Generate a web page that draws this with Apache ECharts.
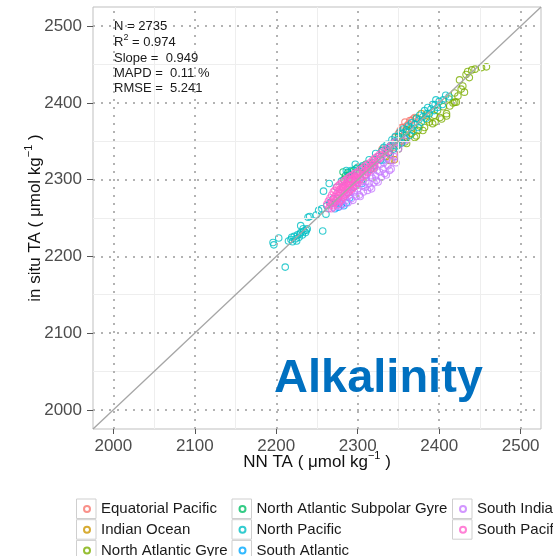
<!DOCTYPE html>
<html><head><meta charset="utf-8">
<script src="https://cdn.jsdelivr.net/npm/echarts@6/dist/echarts.min.js"></script>
<style>html,body{margin:0;padding:0;background:#fff}#c{width:553px;height:556px}</style>
</head><body><div id="c"></div>
<script>
const FONT = '"Liberation Sans", Arial, Helvetica, sans-serif';
const axisRange = [1975, 2525];
const tickValues = [2000, 2100, 2200, 2300, 2400, 2500];
const minorValues = [2050, 2150, 2250, 2350, 2450];
const regionNames = ['Equatorial Pacific', 'Indian Ocean', 'North Atlantic Gyre', 'North Atlantic Subpolar Gyre', 'North Pacific', 'South Atlantic', 'South Indian', 'South Pacific'];
const regionColors = ['#F8766D', '#CD9600', '#7CAE00', '#00BE67', '#00BFC4', '#00A9FF', '#C77CFF', '#FF61CC'];
const statsLines = ['N = 2735', '{a|R}{s|2}{a| = 0.974}', 'Slope =  0.949', 'MAPD =  0.11 %', 'RMSE =  5.241'];
const panelLabel = 'Alkalinity';

const equatorialPacific = [[2354,2368],[2356,2368],[2358,2375],[2360,2370],[2364,2377],[2366,2377],[2368,2379],[2346,2355],[2350,2360],[2341,2325],[2345,2334],[2330,2340],[2320,2326],[2362,2372],[2352,2364],[2370,2381]];
const indianOcean = [[2335,2330],[2340,2333],[2345,2326],[2378,2386],[2372,2380],[2360,2358],[2320,2315],[2305,2300],[2350,2345],[2384,2384],[2366,2366]];
const northAtlanticGyre = [[2339,2325],[2358,2349],[2360,2347],[2360,2355],[2370,2355],[2372,2357],[2374,2364],[2380,2364],[2382,2368],[2388,2375],[2392,2373],[2395,2375],[2401,2381],[2403,2379],[2409,2383],[2409,2386],[2413,2396],[2417,2400],[2419,2401],[2421,2401],[2419,2413],[2423,2409],[2429,2422],[2431,2414],[2433,2437],[2435,2441],[2437,2433],[2425,2430],[2440,2443],[2444,2444],[2452,2446],[2458,2447],[2398,2390],[2385,2378],[2366,2360],[2350,2340],[2405,2395],[2412,2405],[2427,2418],[2376,2370],[2394,2384],[2354,2350]];
const northAtlanticSubpolarGyre = [[2282,2310],[2285,2305],[2288,2309],[2290,2306],[2292,2310],[2295,2312],[2298,2314],[2300,2310],[2283,2300],[2290,2302],[2305,2316],[2310,2320],[2340,2342],[2330,2338],[2350,2356],[2360,2365]];
const northPacific = [[2196,2218],[2197,2215],[2203,2224],[2211,2186],[2215,2220],[2218,2222],[2220,2219],[2222,2226],[2224,2223],[2226,2228],[2228,2225],[2230,2231],[2232,2228],[2234,2233],[2236,2231],[2238,2236],[2219,2225],[2225,2220],[2229,2229],[2233,2236],[2237,2234],[2230,2240],[2239,2251],[2241,2252],[2249,2254],[2257,2233],[2261,2255],[2262,2266],[2258,2285],[2265,2295],[2252,2260],[2256,2262],[2266,2270],[2270,2275],[2274,2290],[2280,2298],[2288,2310],[2292,2312],[2297,2320],[2300,2316],[2286,2312],[2296,2305],[2300,2305],[2310,2315],[2318,2322],[2325,2330],[2330,2338],[2335,2340],[2340,2344],[2345,2350],[2350,2352],[2355,2360],[2360,2362],[2365,2368],[2370,2372],[2375,2378],[2380,2382],[2385,2386],[2390,2392],[2395,2398],[2400,2402],[2405,2404],[2338,2335],[2348,2344],[2358,2354],[2368,2364],[2378,2375],[2388,2386],[2398,2394],[2332,2342],[2342,2352],[2352,2362],[2362,2370],[2372,2380],[2382,2390],[2392,2398],[2408,2410],[2412,2408],[2306,2318],[2314,2326],[2322,2334],[2328,2326],[2316,2314],[2336,2346],[2346,2356],[2356,2366],[2366,2374],[2376,2384],[2386,2394],[2396,2404],[2344,2340],[2354,2348],[2364,2358],[2374,2368],[2384,2380],[2394,2390],[2404,2398]];
const southAtlantic = [[2276,2264],[2280,2268],[2283,2266],[2286,2270],[2278,2270],[2272,2262],[2290,2276],[2295,2290],[2305,2295],[2310,2306],[2320,2318],[2330,2325],[2288,2283],[2275,2275]];
const southIndian = [[2266,2269],[2270,2264],[2272,2270],[2275,2266],[2278,2265],[2280,2272],[2282,2268],[2284,2276],[2286,2273],[2288,2270],[2290,2280],[2292,2275],[2294,2273],[2296,2284],[2298,2278],[2300,2288],[2302,2280],[2303,2278],[2305,2292],[2307,2284],[2309,2290],[2310,2298],[2312,2286],[2314,2295],[2315,2290],[2317,2288],[2318,2302],[2320,2296],[2322,2305],[2323,2299],[2325,2297],[2327,2310],[2329,2303],[2331,2314],[2333,2308],[2335,2306],[2337,2318],[2339,2312],[2341,2314],[2343,2325],[2345,2330],[2347,2322],[2282,2290],[2288,2295],[2295,2300],[2304,2302],[2312,2310],[2320,2315],[2328,2320],[2336,2328],[2276,2280],[2298,2292],[2306,2298],[2316,2305],[2324,2312],[2332,2322],[2340,2332],[2350,2340],[2292,2285],[2286,2282],[2300,2295],[2310,2303],[2352,2346],[2356,2350],[2360,2352]];
const southPacific = [[2262,2268],[2264,2272],[2264,2262],[2266,2276],[2266,2266],[2268,2280],[2268,2270],[2268,2262],[2270,2284],[2270,2274],[2270,2266],[2272,2286],[2272,2278],[2272,2270],[2274,2290],[2274,2281],[2274,2273],[2276,2292],[2276,2284],[2276,2276],[2276,2268],[2278,2294],[2278,2287],[2278,2279],[2278,2271],[2280,2296],[2280,2289],[2280,2282],[2280,2274],[2282,2297],[2282,2291],[2282,2284],[2282,2277],[2284,2299],[2284,2293],[2284,2286],[2284,2279],[2286,2300],[2286,2295],[2286,2288],[2286,2281],[2288,2302],[2288,2297],[2288,2290],[2288,2283],[2290,2304],[2290,2298],[2290,2292],[2290,2285],[2292,2305],[2292,2300],[2292,2294],[2292,2287],[2294,2306],[2294,2301],[2294,2296],[2294,2289],[2296,2308],[2296,2303],[2296,2297],[2296,2291],[2298,2309],[2298,2304],[2298,2299],[2298,2293],[2300,2310],[2300,2305],[2300,2301],[2300,2295],[2303,2313],[2303,2307],[2303,2301],[2306,2315],[2306,2310],[2306,2304],[2309,2318],[2309,2312],[2309,2306],[2312,2320],[2312,2315],[2312,2309],[2315,2322],[2315,2317],[2315,2312],[2318,2325],[2318,2320],[2318,2315],[2321,2328],[2321,2323],[2321,2318],[2324,2330],[2324,2325],[2327,2333],[2327,2328],[2330,2336],[2330,2331],[2334,2339],[2334,2334],[2338,2342],[2338,2337],[2342,2346],[2346,2349]];

const regionData = [equatorialPacific, indianOcean, northAtlanticGyre, northAtlanticSubpolarGyre, northPacific, southAtlantic, southIndian, southPacific];
const drawOrder = [2, 0, 1, 3, 5, 6, 4, 7];

const chart = echarts.init(document.getElementById('c'), null, {renderer: 'canvas'});

const scatterSeries = drawOrder.map(i => ({
  type: 'scatter', name: regionNames[i], data: regionData[i],
  symbol: 'circle', symbolSize: 6.5,
  itemStyle: {color: 'rgba(0,0,0,0)', borderColor: regionColors[i], borderWidth: 1.1},
  emphasis: {disabled: true}, silent: true, z: 3
}));

const majorStyle = {color: '#b3b3b3', width: 2, type: [2, 6]};
const minorStyle = {color: '#eeeeee', width: 1, type: 'solid'};
const gridLines = [];
minorValues.forEach(v => { gridLines.push({xAxis: v, lineStyle: minorStyle}); gridLines.push({yAxis: v, lineStyle: minorStyle}); });
tickValues.forEach(v => { gridLines.push({xAxis: v, lineStyle: majorStyle}); gridLines.push({yAxis: v, lineStyle: majorStyle}); });

const boxLefts = [76, 231.5, 452];
const legendRowCenters = [509, 529.7, 550.4];
const legends = regionNames.map((n, k) => ({
  data: [n],
  orient: 'horizontal', left: boxLefts[Math.floor(k / 3)] + 7, top: legendRowCenters[k % 3] - 8.5,
  itemWidth: 6, itemHeight: 6, icon: 'circle', padding: 0,
  selectedMode: false,
  textStyle: {fontSize: 15, lineHeight: 17, color: '#1a1a1a', fontFamily: FONT, padding: [0, 0, 0, 6]}
}));

const graphics = [];
regionNames.forEach((n, k) => {
  const col = Math.floor(k / 3), row = k % 3;
  graphics.push({type: 'rect', z: -1, silent: true,
    shape: {x: boxLefts[col] + 0.5, y: legendRowCenters[row] - 10, width: 19.5, height: 19.5},
    style: {fill: '#fff', stroke: '#cfcfcf', lineWidth: 1}});
});
const statYs = [26.7, 42.5, 58.3, 73.5, 88.5];
statsLines.forEach((t, k) => {
  graphics.push({type: 'text', z: 20, silent: true, x: 114, y: statYs[k],
    style: {text: t, fill: '#1a1a1a', fontSize: 13, fontFamily: FONT, verticalAlign: 'middle',
      rich: {a: {fontSize: 13, fontFamily: FONT, fill: '#1a1a1a'}, s: {fontSize: 9, fontFamily: FONT, fill: '#1a1a1a', padding: [0, 0, 9, 0]}}}});
});
graphics.push({type: 'text', z: 20, silent: true, x: 274, y: 379,
  style: {text: panelLabel, fill: '#0070C0', fontSize: 47, fontWeight: 'bold', fontFamily: FONT, verticalAlign: 'middle'}});

const nameRich = {
  a: {fontSize: 17, color: '#111', fontFamily: FONT},
  s: {fontSize: 11, color: '#111', fontFamily: FONT, padding: [0, 0, 13, 0]}
};

function axisCfg(name, isY) {
  return {
    type: 'value', min: axisRange[0], max: axisRange[1],
    axisLine: {show: false},
    axisTick: {show: true, length: isY ? 6 : 5, customValues: tickValues, lineStyle: {color: '#555', width: 1}},
    axisLabel: {customValues: tickValues, margin: isY ? 11 : 9, fontSize: 17, color: '#4d4d4d', fontFamily: FONT, formatter: v => String(v)},
    splitLine: {show: false}, minorSplitLine: {show: false},
    name: name, nameLocation: 'middle', nameGap: isY ? 46 : 21, nameMoveOverlap: false,
    nameTextStyle: {fontSize: 17, color: '#111', fontFamily: FONT, rich: nameRich}
  };
}

chart.setOption({
  animation: false,
  textStyle: {fontFamily: FONT},
  grid: {left: 93, top: 7, right: 12, bottom: 127, show: true, borderColor: '#bfbfbf', borderWidth: 1, backgroundColor: '#fff', containLabel: false},
  xAxis: axisCfg('{a|NN TA ( μmol kg}{s|−1}{a| )}', false),
  yAxis: axisCfg('{a|in situ TA ( μmol kg}{s|−1}{a| )}', true),
  legend: legends,
  graphic: graphics,
  series: [
    {type: 'line', data: [], silent: true, z: 1, markLine: {silent: true, symbol: ['none', 'none'], label: {show: false}, animation: false, data: gridLines}},
    ...scatterSeries,
    {type: 'line', data: [[axisRange[0], axisRange[0]], [axisRange[1], axisRange[1]]], showSymbol: false, silent: true, z: 10, lineStyle: {color: '#a6a6a6', width: 1.3}}
  ]
});
</script></body></html>
